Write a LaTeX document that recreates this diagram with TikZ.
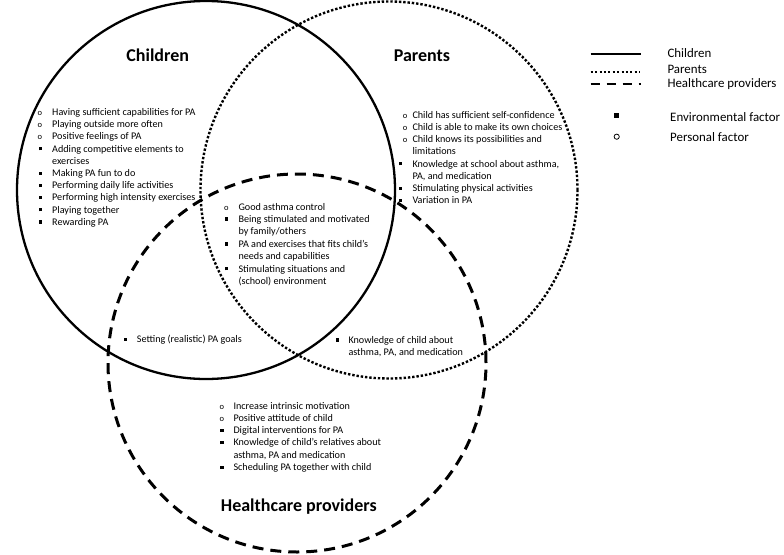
\documentclass[tikz,border=0pt]{standalone}
\usepackage{fontspec}
\setmainfont{Carlito}
\newlength\bw
\newlength\sq
\newcommand\bo{\makebox[\bw][l]{\fontsize{8.5}{8.5}\selectfont o}}
\newcommand\bs{\makebox[\bw][l]{\hspace{\sq}\rule[1.7pt]{3.3pt}{3.3pt}}}
\newcommand\bn{\hspace*{\bw}}
\tikzset{
  lst/.style={font=\fontsize{10.15}{12.2}\selectfont, inner sep=0pt, anchor=base west},
  ttl/.style={font=\fontsize{18}{20}\selectfont\bfseries, inner sep=0pt, anchor=base},
  leg/.style={font=\fontsize{12.9}{15}\selectfont, inner sep=0pt, anchor=base west},
  solidc/.style={line width=2.3pt},
  dotc/.style={line width=2.4pt, dash pattern=on 2.4pt off 1.9pt},
  dashc/.style={line width=3pt, dash pattern=on 11pt off 7pt},
}
\begin{document}
\begin{tikzpicture}[x=1pt,y=-1pt]
\useasboundingbox (0,0) rectangle (784,554);
% circles
\coordinate (cc) at (206,190);
\coordinate (pc) at (389,190);
\coordinate (hc) at (297,363);
\draw[solidc] (cc) circle[radius=189pt];
\draw[dotc] (pc) circle[radius=188.5pt];
\draw[dashc] (hc) circle[radius=189pt];
% titles
\node[ttl] (tchild) at (157.7,61.7) {Children};
\node[ttl] (tpar) at (422,61.7) {Parents};
\node[ttl] (thcp) at (298.8,511.7) {Healthcare providers};
% Children list
\node[lst] (clist) at (37.5,115.5) {\setlength\bw{14.5pt}\setlength\sq{1pt}%
\begin{tabular}[t]{@{}l@{}}
\bo Having sufficient capabilities for PA\\
\bo Playing outside more often\\
\bo Positive feelings of PA\\
\bs Adding competitive elements to\\
\bn exercises\\
\bs Making PA fun to do\\
\bs Performing daily life activities\\
\bs Performing high intensity exercises\\
\bs Playing together\\
\bs Rewarding PA
\end{tabular}};
% Parents list
\node[lst] (plist) at (402.7,118.3) {\setlength\bw{9.6pt}\setlength\sq{-3.9pt}%
\begin{tabular}[t]{@{}l@{}}
\bo Child has sufficient self-confidence\\
\bo Child is able to make its own choices\\
\bo Child knows its possibilities and\\
\bn limitations\\
\bs Knowledge at school about asthma,\\
\bn PA, and medication\\
\bs Stimulating physical activities\\
\bs Variation in PA
\end{tabular}};
% Center list
\node[lst, font=\fontsize{10.15}{12.4}\selectfont] (mlist) at (223.8,210) {\setlength\bw{14.5pt}\setlength\sq{0.5pt}%
\begin{tabular}[t]{@{}l@{}}
\bo Good asthma control\\
\bs Being stimulated and motivated\\
\bn by family/others\\
\bs PA and exercises that fits child's\\
\bn needs and capabilities\\
\bs Stimulating situations and\\
\bn (school) environment
\end{tabular}};
% Children & Healthcare
\node[lst] (chlist) at (123.3,342.5) {\setlength\bw{13.4pt}\setlength\sq{0pt}%
\begin{tabular}[t]{@{}l@{}}
\bs Setting (realistic) PA goals
\end{tabular}};
% Parents & Healthcare
\node[lst, font=\fontsize{10.15}{12.6}\selectfont] (phlist) at (335.6,343.2) {\setlength\bw{12.7pt}\setlength\sq{0pt}%
\begin{tabular}[t]{@{}l@{}}
\bs Knowledge of child about\\
\bn asthma, PA, and medication
\end{tabular}};
% Healthcare list
\node[lst, font=\fontsize{10.15}{12.3}\selectfont] (hlist) at (219.5,409) {\setlength\bw{13.8pt}\setlength\sq{0.5pt}%
\begin{tabular}[t]{@{}l@{}}
\bo Increase intrinsic motivation\\
\bo Positive attitude of child\\
\bs Digital interventions for PA\\
\bs Knowledge of child's relatives about\\
\bn asthma, PA and medication\\
\bs Scheduling PA together with child
\end{tabular}};
% legend
\coordinate (l1a) at (590.7,54);   \coordinate (l1b) at (640.7,54);
\coordinate (l2a) at (590.7,71.7); \coordinate (l2b) at (640,71.7);
\coordinate (l3a) at (590.7,84.3); \coordinate (l3b) at (640.7,84.3);
\draw[line width=2pt] (l1a) -- (l1b);
\draw[line width=2pt, dash pattern=on 2pt off 2.4pt] (l2a) -- (l2b);
\draw[line width=2.3pt, dash pattern=on 9.5pt off 6.5pt] (l3a) -- (l3b);
\node[leg] (lc) at (667.3,57.3) {Children};
\node[leg] (lp) at (667.3,73.3) {Parents};
\node[leg] (lh) at (667.3,87.7) {Healthcare providers};
\fill (613.5,112.5) rectangle (618.5,117.5);
\draw[line width=0.8pt] (616.7,136.7) circle[radius=2.6pt];
\node[leg] (le) at (670,121.7) {Environmental factor};
\node[leg] (lpf) at (670,141.7) {Personal factor};
\end{tikzpicture}
\end{document}
